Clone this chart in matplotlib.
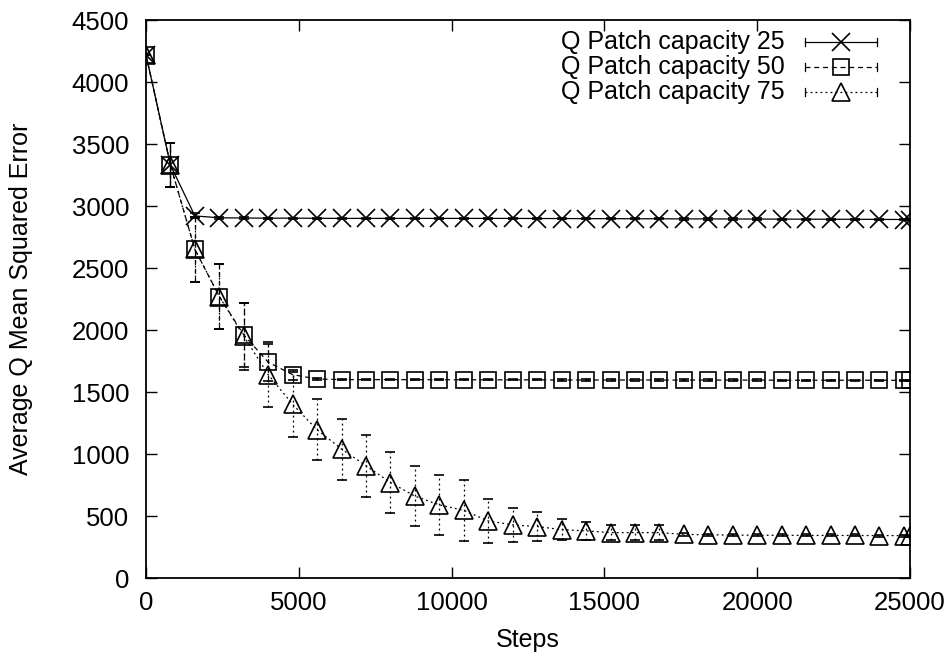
import matplotlib
matplotlib.use('Agg')
import matplotlib.pyplot as plt
from matplotlib.lines import Line2D

plt.rcParams['font.family'] = ['Liberation Sans', 'DejaVu Sans']
plt.rcParams['font.size'] = 18

steps = [0, 800, 1600, 2400, 3200, 4000, 4800, 5600, 6400, 7200, 8000,
         8800, 9600, 10400, 11200, 12000, 12800, 13600, 14400, 15200, 16000,
         16800, 17600, 18400, 19200, 20000, 20800, 21600, 22400, 23200, 24000,
         24800, 25000]

cap25 = [4220, 3330, 2920, 2905, 2903, 2902, 2902, 2901, 2900, 2900, 2900,
         2900, 2900, 2900, 2900, 2900, 2899, 2899, 2898, 2898, 2897, 2897,
         2896, 2896, 2895, 2895, 2894, 2894, 2893, 2893, 2892, 2891, 2890]
err25 = [0, 175, 20, 6, 5, 5, 5, 5, 5, 5, 5, 5, 5, 5, 5, 5, 5, 5, 5, 5, 5,
         5, 5, 5, 5, 5, 5, 5, 5, 5, 5, 5, 5]

cap50 = [4220, 3330, 2650, 2270, 1960, 1740, 1640, 1605, 1600, 1600, 1600,
         1599, 1599, 1599, 1598, 1598, 1598, 1597, 1597, 1597, 1597, 1596,
         1596, 1596, 1596, 1596, 1595, 1595, 1595, 1595, 1595, 1594, 1594]
err50 = [0, 175, 260, 265, 260, 150, 40, 10, 6, 5, 5, 5, 5, 5, 5, 5, 5, 5,
         5, 5, 5, 5, 5, 5, 5, 5, 5, 5, 5, 5, 5, 5, 5]

cap75 = [4220, 3330, 2650, 2270, 1950, 1640, 1400, 1195, 1040, 905, 770,
         660, 590, 545, 460, 428, 415, 390, 380, 366, 366, 366, 352, 348,
         346, 345, 344, 344, 343, 343, 342, 342, 341]
err75 = [0, 175, 260, 265, 270, 262, 260, 247, 246, 250, 247, 242, 242, 243,
         175, 138, 120, 87, 72, 60, 58, 58, 12, 10, 8, 8, 8, 8, 8, 8, 8, 8, 8]

labels = ['Q Patch capacity 25', 'Q Patch capacity 50', 'Q Patch capacity 75']

fig = plt.figure(figsize=(9.52, 6.64), dpi=100)
ax = fig.add_axes([146 / 952, 1 - 578 / 664, 764 / 952, 558 / 664])

styles = [
    dict(y=cap25, e=err25, marker='x', ms=13.5, ls='-'),
    dict(y=cap50, e=err50, marker='s', ms=12, ls=(0, (4, 3))),
    dict(y=cap75, e=err75, marker='^', ms=13, ls=(0, (1.5, 2.5))),
]

for s in styles:
    eb = ax.errorbar(steps, s['y'], yerr=s['e'], color='black', lw=0.9,
                     ls=s['ls'], marker=s['marker'], ms=s['ms'],
                     mfc='none', mec='black', mew=1.2, capsize=3.5,
                     elinewidth=0.9, capthick=0.9)
    for bar in eb[2]:
        bar.set_linestyle(s['ls'])

ax.set_xlim(0, 25000)
ax.set_ylim(0, 4500)
ax.set_xticks([0, 5000, 10000, 15000, 20000, 25000])
ax.set_yticks(range(0, 4501, 500))
ax.tick_params(direction='in', length=8, width=1, top=True, right=True,
               labelsize=18.5)
ax.tick_params(axis='x', pad=9)
ax.tick_params(axis='y', pad=12)
for sp in ax.spines.values():
    sp.set_linewidth(1.3)

ax.set_xlabel('Steps', fontsize=18, labelpad=10)
ax.set_ylabel('Average Q Mean Squared Error', fontsize=18, labelpad=28)

# gnuplot style key
rows = [0.9606, 0.9158, 0.871]
x0, x1, xm = 0.8626, 0.9568, 0.9097
for i, s in enumerate(styles):
    y = rows[i]
    ax.text(0.836, y, labels[i], transform=ax.transAxes, ha='right',
            va='center', fontsize=18)
    ax.add_line(Line2D([x0, x1], [y, y], transform=ax.transAxes,
                       color='black', lw=0.9, ls=s['ls']))
    for xe in (x0, x1):
        ax.add_line(Line2D([xe, xe], [y - 0.008, y + 0.008],
                           transform=ax.transAxes, color='black', lw=0.9))
    ax.add_line(Line2D([xm], [y], transform=ax.transAxes, marker=s['marker'],
                       ms=s['ms'], mfc='none', mec='black', mew=1.2,
                       ls='none'))

fig.savefig('out.png', dpi=100)
